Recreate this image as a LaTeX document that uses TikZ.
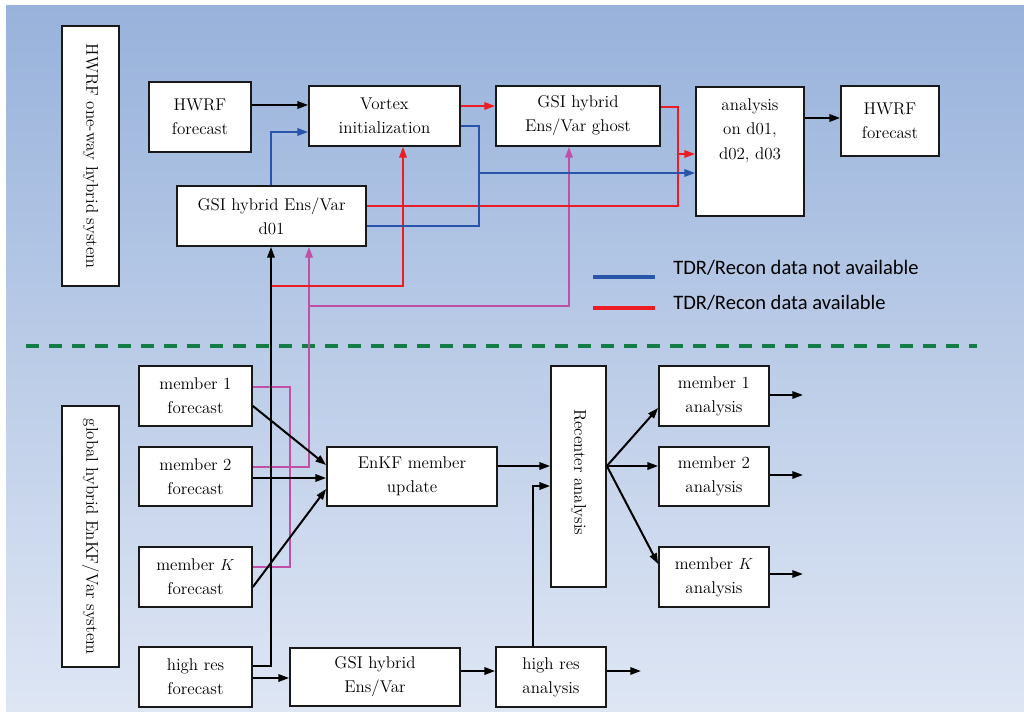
\documentclass[tikz,border=0pt]{standalone}
\usepackage{fontspec}
\newfontfamily\legfont{Carlito}
\usetikzlibrary{arrows.meta}
\definecolor{bgtop}{RGB}{152,178,219}
\definecolor{bgbot}{RGB}{222,230,244}
\definecolor{cblue}{RGB}{40,84,170}
\definecolor{cred}{RGB}{236,28,36}
\definecolor{cmag}{RGB}{192,80,166}
\definecolor{cgreen}{RGB}{20,125,70}
\newcommand\bx[6]{\node[box, minimum width={(#4-#2)*0.75pt}, minimum height={(#5-#3)*0.75pt}] (#1) at ({(#2+#4)/2},{(#3+#5)/2}) {#6};}
\newcommand\vbx[6]{\node[box, rotate=-90, minimum width={(#5-#3)*0.75pt}, minimum height={(#4-#2)*0.75pt}] (#1) at ({(#2+#4)/2},{(#3+#5)/2}) {#6};}
\begin{document}
\begin{tikzpicture}[x=0.75pt,y=-0.75pt,
  box/.style={draw=black!90, fill=white, line width=1.3pt, inner sep=0pt, align=center, font=\fontsize{12.75}{18}\selectfont},
  tip/.style={-{Triangle[length=8pt,width=5.5pt]}},
  blk/.style={draw=black, line width=1.5pt},
  bl/.style={draw=cblue, line width=1.5pt},
  rd/.style={draw=cred, line width=1.5pt},
  mg/.style={draw=cmag, line width=1.5pt},
  legtext/.style={anchor=west, inner sep=0pt, font=\legfont\fontsize{15.4}{17}\selectfont}]
\useasboundingbox (0,0) rectangle (1024,711);
\shade[top color=bgtop,bottom color=bgbot] (6,5) rectangle (1024,711);
% boxes
\vbx{sysA}{62}{26}{119}{286}{HWRF one-way hybrid system}
\bx{hwrfA}{149}{82}{251}{152}{HWRF\\forecast}
\bx{vortex}{309}{86}{460}{146}{Vortex\\initialization}
\bx{d01}{177}{186}{366}{246}{GSI hybrid Ens/Var\\d01}
\bx{ghost}{496}{86}{660}{146}{GSI hybrid\\Ens/Var ghost}
\node[box, minimum width={108*0.75pt}, minimum height={129*0.75pt}, anchor=north, text depth=0pt] (ana) at (750,86) {};
\node[align=center, anchor=north, font=\fontsize{12.75}{18.4}\selectfont, inner sep=0pt] (anat) at (750,98) {analysis\\on d01,\\d02, d03};
\bx{hwrfB}{841}{86}{939}{156}{HWRF\\forecast}
\vbx{sysB}{62}{406}{119}{667}{global hybrid EnKF/Var system}
\bx{mem1}{139}{366}{252}{426}{member 1\\forecast}
\bx{mem2}{139}{447}{252}{506}{member 2\\forecast}
\bx{memK}{139}{547}{252}{607}{member $K$\\forecast}
\bx{hrf}{139}{647}{252}{707}{high res\\forecast}
\bx{enkf}{327}{447}{497}{506}{EnKF member\\update}
\bx{gsil}{290}{648}{460}{706}{GSI hybrid\\Ens/Var}
\bx{hra}{496}{647}{606}{707}{high res\\analysis}
\node[box, minimum width={221*0.75pt}, minimum height={55*0.75pt}, rotate=-90] (rec) at (578.5,476.5) {};
\node[rotate=-90, inner sep=0pt, font=\fontsize{12.75}{18}\selectfont, anchor=west] (rect) at (578.5,409) {Recenter analysis};
\bx{ma1}{659}{366}{769}{426}{member 1\\analysis}
\bx{ma2}{659}{447}{769}{506}{member 2\\analysis}
\bx{maK}{659}{547}{769}{607}{member $K$\\analysis}
% coordinates
\coordinate (bj) at (479,173);
\coordinate (rj) at (678,154);
\coordinate (rs) at (271,286);
\coordinate (mj) at (309,306);
\coordinate (mb) at (290,567);
\coordinate (o1) at (803,395);
\coordinate (o2) at (803,475);
\coordinate (oK) at (803,574);
\coordinate (o5) at (641,671);
\coordinate (g1) at (26,346);
\coordinate (g2) at (977,346);
\coordinate (la1) at (593,277);
\coordinate (la2) at (655,277);
\coordinate (lb1) at (593,308);
\coordinate (lb2) at (655,308);
% dashed separator
\draw[cgreen, line width=2.3pt, dash pattern=on 9.75pt off 7.5pt] (g1) -- (g2);
% magenta
\draw[mg] (mem1.east |- 0,387) -| (mb) -- (memK.east |- 0,567);
\draw[mg, tip] (mem2.east |- 0,467) -| (d01.south -| 309,0);
\draw[mg, tip] (mj) -| (ghost.south -| 569,0);
% red
\draw[rd, tip] (vortex.east |- 0,106) -- (ghost.west |- 0,106);
\draw[rd] (ghost.east |- 0,107) -| (rj);
\draw[rd, tip] (d01.east |- 0,206) -| (rj) -- (ana.west |- 0,154);
\draw[rd, tip] (rs) -| (vortex.south -| 403,0);
% blue
\draw[bl, tip] (d01.north -| 271,0) |- (vortex.west |- 0,132);
\draw[bl] (vortex.east |- 0,126) -| (bj);
\draw[bl, tip] (d01.east |- 0,226) -| (bj) -- (ana.west |- 0,173);
% black
\draw[blk, tip] (hwrfA.east |- 0,105) -- (vortex.west |- 0,105);
\draw[blk, tip] (ana.east |- 0,118) -- (hwrfB.west |- 0,118);
\draw[blk, tip] (hrf.east |- 0,666) -| (d01.south -| 271,0);
\draw[blk, tip] (mem1.east |- 0,406) -- (enkf.west |- 0,465);
\draw[blk, tip] (mem2.east |- 0,478) -- (enkf.west |- 0,478);
\draw[blk, tip] (memK.east |- 0,587) -- (enkf.west |- 0,489);
\draw[blk, tip] (enkf.east |- 0,466) -- (rec.south |- 0,466);
\draw[blk, tip] (hra.north -| 533,0) |- (rec.south |- 0,486);
\draw[blk, tip] (rec.north |- 0,466) -- (ma1.west |- 0,408);
\draw[blk, tip] (rec.north |- 0,466) -- (ma2.west |- 0,466);
\draw[blk, tip] (rec.north |- 0,466) -- (maK.west |- 0,564);
\draw[blk, tip] (hrf.east |- 0,678) -- (gsil.west |- 0,678);
\draw[blk, tip] (gsil.east |- 0,671) -- (hra.west |- 0,671);
\draw[blk, tip] (hra.east |- 0,671) -- (o5);
\draw[blk, tip] (ma1.east |- 0,395) -- (o1);
\draw[blk, tip] (ma2.east |- 0,475) -- (o2);
\draw[blk, tip] (maK.east |- 0,574) -- (oK);
% legend
\draw[cblue, line width=2.3pt] (la1) -- (la2);
\draw[cred, line width=2.3pt] (lb1) -- (lb2);
\node[legtext] (leg1) at (673,268) {TDR/Recon data not available};
\node[legtext] (leg2) at (673,303) {TDR/Recon data available};
\end{tikzpicture}
\end{document}
